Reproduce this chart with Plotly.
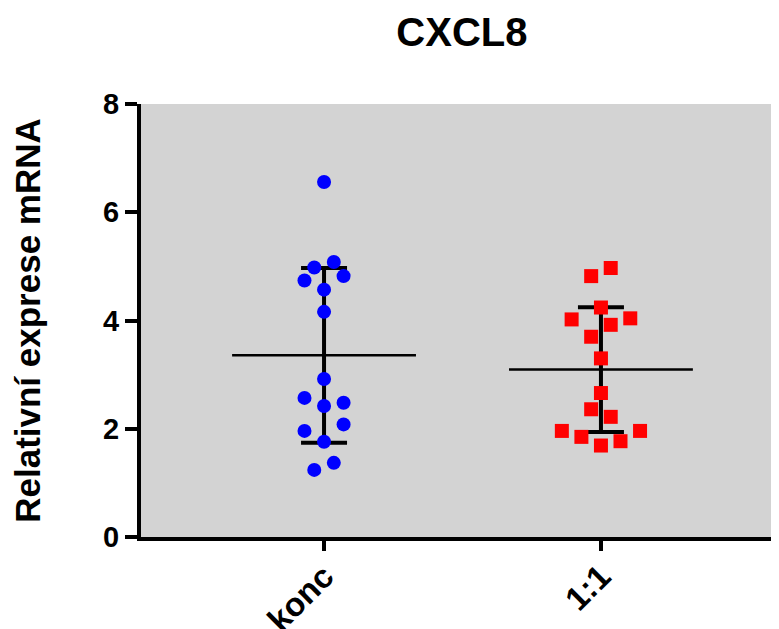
import numpy as np
import plotly.graph_objects as go

categories = ["konc", "1:1"]
konc_values = [6.56, 5.08, 4.98, 4.74, 4.82, 4.57, 4.16, 2.92, 2.57, 2.42, 2.48, 1.96, 2.08, 1.76, 1.37, 1.24]
konc_jitter = [0, 1, -1, -2, 2, 0, 0, 0, -2, 0, 2, -2, 2, 0, 1, -1]
ratio_values = [4.97, 4.82, 4.24, 4.02, 4.04, 3.92, 3.70, 3.30, 2.66, 2.36, 2.22, 1.96, 1.96, 1.85, 1.77, 1.69]
ratio_jitter = [1, -1, 0, -3, 3, 1, -1, 0, 0, -1, 1, -4, 4, -2, 2, 0]
y_ticks = [0, 2, 4, 6, 8]

JIT = 0.0353
MEAN_HALF = 0.332
FONT = "Arial, Liberation Sans, sans-serif"

groups = [
    (konc_values, konc_jitter, "#0000FF", "circle"),
    (ratio_values, ratio_jitter, "#FF0000", "square"),
]

fig = go.Figure()
for i, (vals, jit, color, symbol) in enumerate(groups):
    v = np.array(vals)
    m = v.mean()
    sd = v.std(ddof=1)
    fig.add_trace(go.Scatter(x=[i - MEAN_HALF, i + MEAN_HALF], y=[m, m], mode="lines",
                             line=dict(color="black", width=2.5), hoverinfo="skip", showlegend=False))
    fig.add_trace(go.Scatter(x=[i], y=[m], mode="markers", marker=dict(size=1, opacity=0),
                             error_y=dict(type="data", array=[sd], color="black", thickness=4, width=23),
                             showlegend=False))
    fig.add_trace(go.Scatter(x=[i + j * JIT for j in jit], y=vals, mode="markers",
                             marker=dict(color=color, symbol=symbol, size=14, line=dict(width=0)),
                             showlegend=False))

# page has an 8px body margin: figure is sized/placed to compensate
fig.update_layout(
    width=771, height=621,
    margin=dict(l=133, r=0, t=96, b=92),
    paper_bgcolor="white", plot_bgcolor="#D3D3D3",
    font=dict(family=FONT, color="black"),
    title=dict(text="CXCL8", x=0.503, xref="paper", xanchor="center",
               y=1 - 24 / 621, yref="container", yanchor="middle",
               font=dict(size=40, weight="bold", family=FONT, color="black")),
    xaxis=dict(range=[-0.661, 1.643], tickvals=[0, 1], ticktext=categories, tickangle=-45,
               ticks="outside", ticklen=10, tickwidth=4, tickcolor="black", automargin=False,
               ticklabelstandoff=-7,
               showline=True, linewidth=4, linecolor="black", showgrid=False, zeroline=False,
               tickfont=dict(size=33, weight="bold", family=FONT)),
    yaxis=dict(range=[0, 8], tickvals=y_ticks, ticks="outside", ticklen=12, tickwidth=4, tickcolor="black",
               automargin=False,
               showline=True, linewidth=4, linecolor="black", showgrid=False, zeroline=False,
               tickfont=dict(size=29, weight="bold", family=FONT),
               title=dict(text="Relativní exprese mRNA", standoff=56,
                          font=dict(size=35, weight="bold", family=FONT))),
)

fig.write_html("out.html")
